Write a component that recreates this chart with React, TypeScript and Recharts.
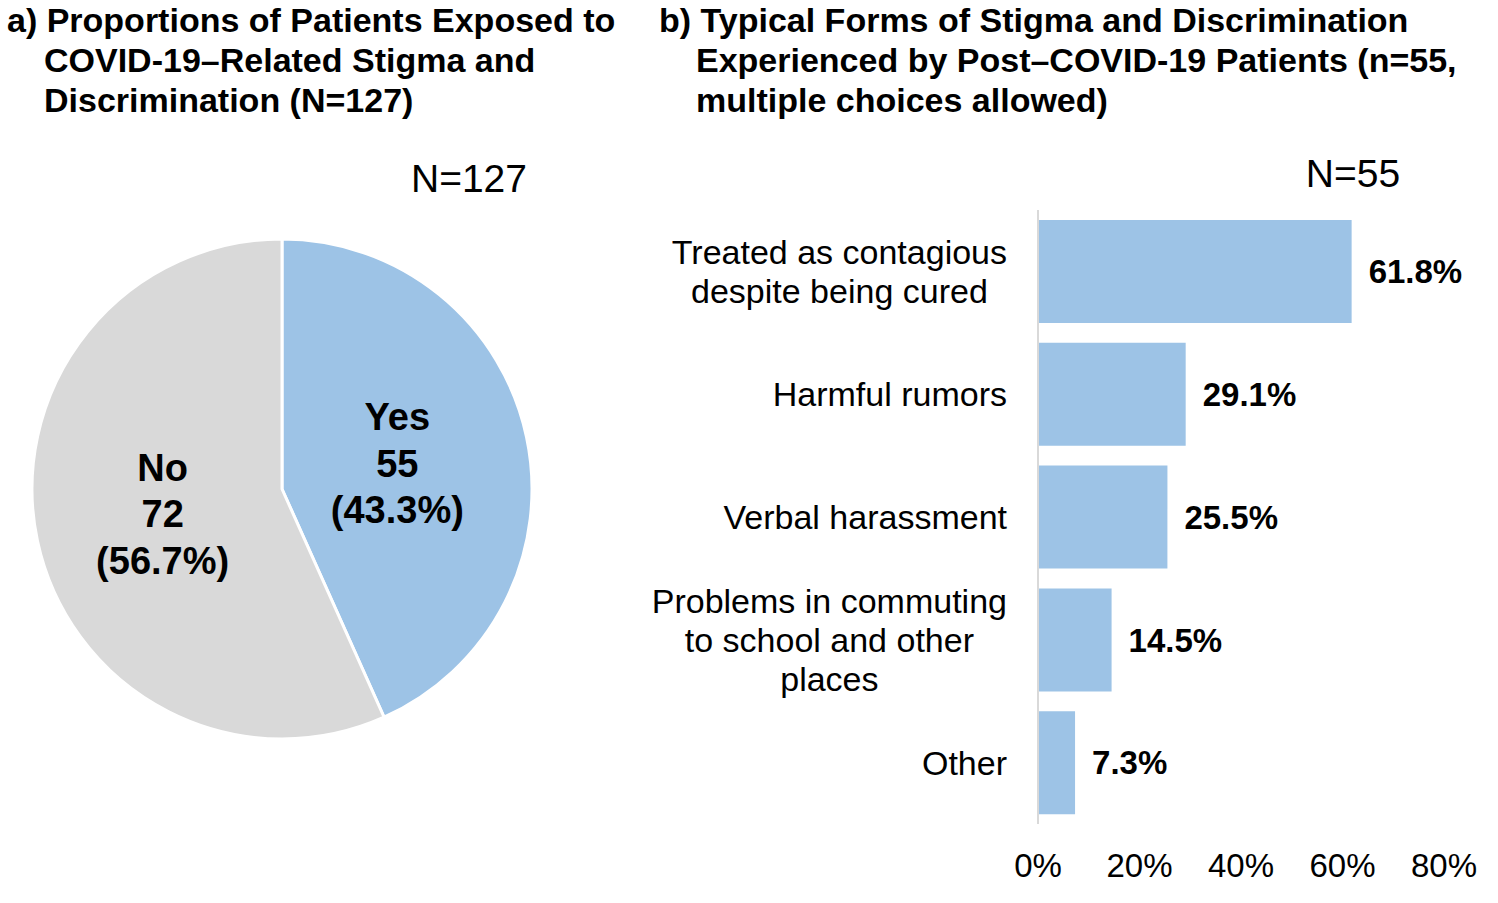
import React from 'react';
import { PieChart, Pie, Cell, BarChart, Bar, XAxis, YAxis, LabelList } from 'recharts';

// Panel a) pie data
const pieNames = ['Yes', 'No'];
const pieCounts = [55, 72];
const piePercents = [43.3, 56.7];
const pieColors = ['#9DC3E6', '#D9D9D9'];

// Panel b) bar data
const barCategories = [
  'Treated as contagious\ndespite being cured',
  'Harmful rumors',
  'Verbal harassment',
  'Problems in commuting\nto school and other\nplaces',
  'Other',
];
const barValues = [61.8, 29.1, 25.5, 14.5, 7.3];
const xTicks = [0, 20, 40, 60, 80];

const FONT = "'Liberation Sans', Arial, Helvetica, sans-serif";
const BLUE = '#9DC3E6';

const pieData = pieNames.map((name, i) => ({ name, count: pieCounts[i], pct: piePercents[i] }));
const barData = barCategories.map((cat, i) => ({ cat, value: barValues[i] }));

let ctx: CanvasRenderingContext2D | null = null;
const measure = (text: string, size: number) => {
  if (!ctx) ctx = document.createElement('canvas').getContext('2d');
  if (!ctx) return text.length * size * 0.5;
  ctx.font = `${size}px ${FONT}`;
  return ctx.measureText(text).width;
};

const RADIAN = Math.PI / 180;

const PieLabel = (props: any) => {
  const { cx, cy, midAngle, outerRadius, payload } = props;
  const r = outerRadius * 0.48;
  const x = cx + r * Math.cos(-midAngle * RADIAN) - 2;
  const y = cy + r * Math.sin(-midAngle * RADIAN);
  const lines = [payload.name, String(payload.count), `(${payload.pct}%)`];
  return (
    <text x={x} y={y} textAnchor="middle" fontFamily={FONT} fontSize={38} fontWeight="bold" fill="#000">
      {lines.map((l, i) => (
        <tspan key={i} x={x} y={y + (i - 1) * 46.5 + 13}>{l}</tspan>
      ))}
    </text>
  );
};

const CategoryTick = (props: any) => {
  const { x, y, payload } = props;
  const lines: string[] = String(payload.value).split('\n');
  const size = 34;
  const w = Math.max(...lines.map((l) => measure(l, size)));
  const center = x - w / 2;
  const step = 39;
  return (
    <text textAnchor="middle" fontFamily={FONT} fontSize={size} fill="#000">
      {lines.map((l, i) => (
        <tspan key={i} x={center} y={y + (i - (lines.length - 1) / 2) * step + 12}>{l}</tspan>
      ))}
    </text>
  );
};

export default function App() {
  return (
    <div style={{ position: 'absolute', left: 0, top: 0, width: 1498, height: 903, background: '#fff', fontFamily: FONT }}>
      <div style={{ position: 'absolute', left: 0, top: 0 }}>
        <PieChart width={600} height={903} margin={{ top: 0, right: 0, bottom: 0, left: 0 }}>
          <Pie
            data={pieData}
            dataKey="count"
            nameKey="name"
            cx={282}
            cy={489}
            outerRadius={250}
            startAngle={90}
            endAngle={-270}
            stroke="#fff"
            strokeWidth={3}
            label={PieLabel}
            labelLine={false}
            isAnimationActive={false}
          >
            {pieData.map((d, i) => (
              <Cell key={d.name} fill={pieColors[i]} />
            ))}
          </Pie>
        </PieChart>
      </div>

      <div style={{ position: 'absolute', left: 640, top: 0 }}>
        <BarChart
          width={858}
          height={903}
          data={barData}
          layout="vertical"
          margin={{ top: 210, right: 54, bottom: 0, left: 0 }}
          barSize={103}
        >
          <XAxis
            type="number"
            domain={[0, 80]}
            ticks={xTicks}
            tickFormatter={(v) => `${v}%`}
            axisLine={false}
            tickLine={false}
            tickSize={0}
            tickMargin={30}
            height={79}
            interval={0}
            tick={{ fontSize: 33, fill: '#000', fontFamily: FONT }}
          />
          <YAxis
            type="category"
            dataKey="cat"
            width={398}
            axisLine={{ stroke: '#D9D9D9', strokeWidth: 2 }}
            tickLine={false}
            tickSize={0}
            tickMargin={31}
            interval={0}
            tick={<CategoryTick />}
          />
          <Bar dataKey="value" fill={BLUE} isAnimationActive={false}>
            <LabelList
              dataKey="value"
              position="right"
              offset={17}
              formatter={(v: any) => `${v}%`}
              style={{ fontSize: 33, fontWeight: 'bold', fill: '#000', fontFamily: FONT }}
            />
          </Bar>
        </BarChart>
      </div>

      <svg width={1498} height={903} style={{ position: 'absolute', left: 0, top: 0, pointerEvents: 'none' }}>
        <g fontFamily={FONT} fontSize={34} fontWeight="bold" fill="#000">
          <text x={7} y={32}>a) Proportions of Patients Exposed to</text>
          <text x={44} y={72}>COVID-19–Related Stigma and</text>
          <text x={44} y={112}>Discrimination (N=127)</text>
          <text x={659} y={32}>b) Typical Forms of Stigma and Discrimination</text>
          <text x={696} y={72}>Experienced by Post–COVID-19 Patients (n=55,</text>
          <text x={696} y={112}>multiple choices allowed)</text>
        </g>
        <g fontFamily={FONT} fontSize={39} fill="#000" textAnchor="middle">
          <text x={469} y={192}>N=127</text>
          <text x={1353} y={187}>N=55</text>
        </g>
      </svg>
    </div>
  );
}
